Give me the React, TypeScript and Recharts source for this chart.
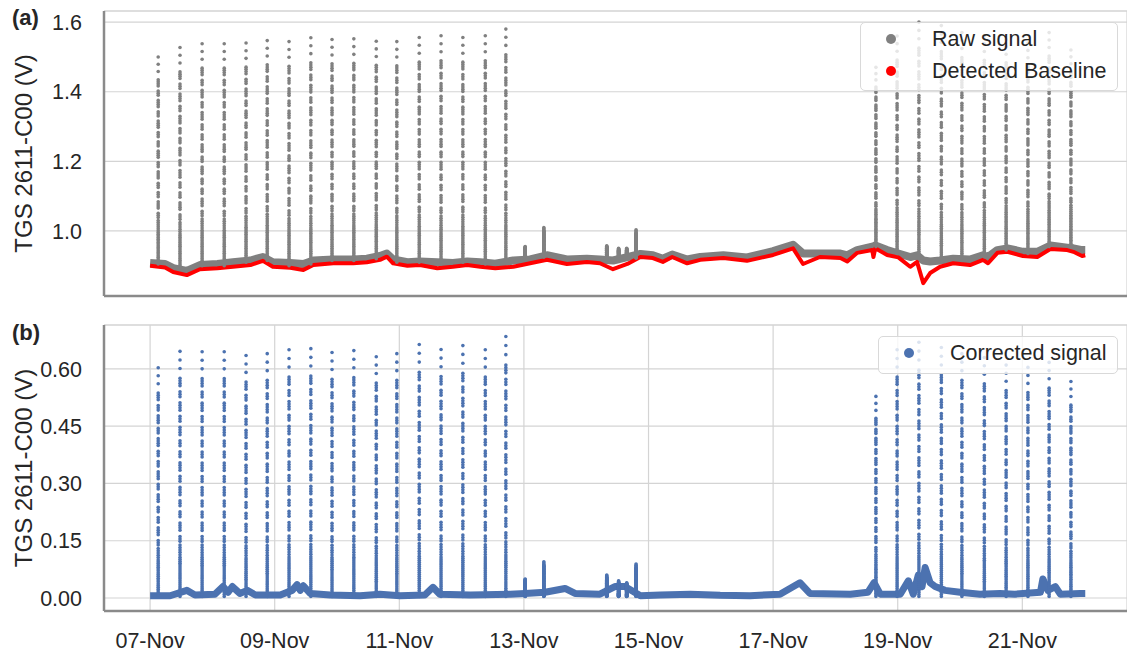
import React from 'react';
import {
  ComposedChart,
  Line,
  Scatter,
  XAxis,
  YAxis,
  CartesianGrid,
  ReferenceLine,
  Legend,
} from 'recharts';

// ---------- data ----------
const tickDays = [0, 2, 4, 6, 8, 10, 12, 14];
const tickLabels = ['07-Nov', '09-Nov', '11-Nov', '13-Nov', '15-Nov', '17-Nov', '19-Nov', '21-Nov'];

// time in days since 07-Nov 00:00
const bandDays = [
  0, 0.24, 0.37, 0.59, 0.8, 1.08, 1.33, 1.61, 1.81, 1.97,
  2.25, 2.46, 2.62, 2.94, 3.26, 3.48, 3.69, 3.8, 3.9, 4.13,
  4.33, 4.61, 4.86, 5.09, 5.3, 5.54, 5.83, 6.1, 6.37, 6.69,
  7.01, 7.22, 7.43, 7.66, 7.87, 8.07, 8.23, 8.38, 8.62, 8.83,
  9.2, 9.58, 10.0, 10.32, 10.48, 10.75, 11.08, 11.19, 11.35, 11.59,
  11.61, 11.64, 11.83, 12.01, 12.2, 12.31, 12.41, 12.52, 12.68, 12.89,
  13.16, 13.37, 13.45, 13.6, 13.76, 14.01, 14.24, 14.45, 14.72, 14.82,
  14.96, 15.01,
];
const baselineValues = [
  0.9, 0.895, 0.882, 0.873, 0.89, 0.893, 0.897, 0.902, 0.914, 0.897,
  0.894, 0.888, 0.902, 0.907, 0.907, 0.91, 0.917, 0.926, 0.907, 0.9,
  0.902, 0.893, 0.897, 0.902, 0.897, 0.893, 0.897, 0.907, 0.917, 0.905,
  0.911, 0.907, 0.89, 0.905, 0.925, 0.922, 0.911, 0.925, 0.907, 0.917,
  0.922, 0.914, 0.931, 0.95, 0.905, 0.925, 0.922, 0.912, 0.937, 0.945,
  0.925, 0.95, 0.931, 0.924, 0.897, 0.911, 0.85, 0.879, 0.897, 0.907,
  0.902, 0.917, 0.907, 0.937, 0.94, 0.928, 0.925, 0.948, 0.945, 0.94,
  0.928, 0.93,
];
const rawBandValues = [
  0.908, 0.905, 0.893, 0.885, 0.902, 0.905, 0.91, 0.915, 0.925, 0.91,
  0.908, 0.905, 0.915, 0.918, 0.918, 0.92, 0.928, 0.935, 0.918, 0.91,
  0.912, 0.91, 0.908, 0.912, 0.91, 0.906, 0.915, 0.918, 0.93, 0.918,
  0.92, 0.918, 0.915, 0.925, 0.934, 0.93, 0.92, 0.932, 0.918, 0.925,
  0.93, 0.924, 0.942, 0.96, 0.935, 0.935, 0.935, 0.93, 0.945, 0.955,
  0.952, 0.958, 0.945, 0.935, 0.925, 0.93, 0.915, 0.912, 0.915, 0.92,
  0.918, 0.93, 0.925, 0.945, 0.95, 0.94, 0.94, 0.958, 0.952, 0.95,
  0.945, 0.945,
];

const corrDays = [
  0, 0.32, 0.59, 0.72, 1.04, 1.17, 1.25, 1.32, 1.44, 1.56,
  1.69, 2.09, 2.28, 2.36, 2.41, 2.46, 2.57, 2.89, 3.37, 3.69,
  4.01, 4.41, 4.54, 4.65, 5.14, 5.78, 6.02, 6.34, 6.66, 6.82,
  7.22, 7.46, 7.62, 7.87, 8.19, 8.67, 9.15, 9.63, 10.11, 10.43,
  10.59, 11.24, 11.52, 11.62, 11.72, 12.04, 12.17, 12.25, 12.33, 12.39,
  12.44, 12.52, 12.6, 12.76, 13.0, 13.32, 13.64, 13.88, 14.29, 14.33,
  14.41, 14.53, 14.61, 14.93, 15.01,
];
const corrValues = [
  0.006, 0.006, 0.02, 0.008, 0.01, 0.03, 0.015, 0.03, 0.012, 0.02,
  0.008, 0.008, 0.02, 0.035, 0.02, 0.032, 0.012, 0.008, 0.006, 0.01,
  0.006, 0.008, 0.028, 0.01, 0.008, 0.01, 0.012, 0.015, 0.025, 0.012,
  0.01, 0.03, 0.03, 0.006, 0.008, 0.01, 0.007, 0.006, 0.01, 0.04,
  0.012, 0.01, 0.015, 0.04, 0.01, 0.01, 0.045, 0.01, 0.06, 0.03,
  0.08, 0.04, 0.03, 0.02, 0.015, 0.01, 0.012, 0.01, 0.015, 0.05,
  0.02, 0.03, 0.01, 0.012, 0.012,
];

// gas exposure spikes
const spikeDays = [
  0.13, 0.48, 0.835, 1.19, 1.54, 1.88, 2.23, 2.58, 2.92, 3.27, 3.63, 3.96, 4.32, 4.67, 5.02, 5.38, 5.71,
  11.65, 11.99, 12.34, 12.7, 13.03, 13.39, 13.74, 14.09, 14.43, 14.78,
];
const rawSpikeBase = [
  0.905, 0.89, 0.9, 0.9, 0.91, 0.915, 0.9, 0.905, 0.915, 0.915, 0.92, 0.91, 0.91, 0.905, 0.91, 0.905, 0.91,
  0.955, 0.935, 0.92, 0.91, 0.915, 0.925, 0.945, 0.935, 0.955, 0.955,
];
const rawSpikePeak = [
  1.5, 1.527, 1.538, 1.538, 1.54, 1.547, 1.544, 1.555, 1.55, 1.552, 1.545, 1.544, 1.556, 1.561, 1.556, 1.561, 1.58,
  1.47, 1.56, 1.6, 1.59, 1.57, 1.56, 1.55, 1.54, 1.57, 1.52,
];
const corrSpikePeak = [
  0.603, 0.646, 0.645, 0.645, 0.635, 0.64, 0.65, 0.653, 0.643, 0.648, 0.632, 0.64, 0.664, 0.651, 0.661, 0.65, 0.685,
  0.528, 0.65, 0.67, 0.656, 0.64, 0.63, 0.61, 0.604, 0.617, 0.567,
];
const corrSpikeBase = 0.004;

// small excursions between 13-Nov and 15-Nov
const minorDays = [6.02, 6.32, 7.33, 7.52, 7.65, 7.8];
const minorRawBase = [0.918, 0.925, 0.918, 0.915, 0.92, 0.922];
const minorRawPeak = [0.955, 1.01, 0.957, 0.95, 0.95, 1.003];
const minorCorrPeak = [0.05, 0.095, 0.06, 0.045, 0.04, 0.089];

// relative levels of the samples recorded during one exposure (0 = base, 1 = peak):
// dense near the base, then clusters separated by small gaps, sparse near the top
const spikeProfile = [
  0, 0.008, 0.016, 0.024, 0.032, 0.04, 0.048, 0.056, 0.064, 0.072, 0.08, 0.088, 0.096,
  0.104, 0.112, 0.12, 0.128, 0.136, 0.144, 0.152, 0.16, 0.17, 0.18, 0.19, 0.2, 0.21,
  0.225, 0.235, 0.245, 0.27, 0.28, 0.29, 0.30, 0.325, 0.335, 0.345, 0.37, 0.38, 0.39,
  0.415, 0.425, 0.435, 0.445, 0.47, 0.48, 0.49, 0.515, 0.525, 0.535, 0.545, 0.57, 0.58,
  0.59, 0.615, 0.625, 0.635, 0.66, 0.67, 0.68, 0.69, 0.715, 0.725, 0.735, 0.76, 0.77,
  0.78, 0.79, 0.815, 0.825, 0.835, 0.86, 0.87, 0.88, 0.89, 0.93, 0.965, 1.0,
];

const legendTopItems = [
  { label: 'Raw signal', color: '#808080' },
  { label: 'Detected Baseline', color: '#ff0000' },
];
const legendBottomItems = [{ label: 'Corrected signal', color: '#4c72b0' }];

// ---------- build series ----------
type Pt = { t: number; v: number };
const toPts = (days: number[], vals: number[]): Pt[] => days.map((t, i) => ({ t, v: vals[i] }));
const spikePts = (days: number[], bases: number[], peaks: number[]): Pt[] => {
  const out: Pt[] = [];
  days.forEach((t, i) => {
    spikeProfile.forEach((f) => out.push({ t, v: bases[i] + f * (peaks[i] - bases[i]) }));
  });
  return out;
};

const baselineData = toPts(bandDays, baselineValues);
const rawBandData = toPts(bandDays, rawBandValues);
const corrBandData = toPts(corrDays, corrValues);
const rawSpikeData = [
  ...spikePts(spikeDays, rawSpikeBase, rawSpikePeak),
  ...spikePts(minorDays, minorRawBase, minorRawPeak),
];
const corrSpikeData = [
  ...spikePts(spikeDays, spikeDays.map(() => corrSpikeBase), corrSpikePeak),
  ...spikePts(minorDays, minorDays.map(() => corrSpikeBase), minorCorrPeak),
];

// ---------- styling ----------
const FONT = '"Liberation Sans", Arial, Helvetica, sans-serif';
const TEXT = '#262626';
const GRID = '#d4d4d4';
const SPINE = '#8a8a8a';
const GRAY = '#808080';
const RED = '#ff0000';
const BLUE = '#4c72b0';
const X_DOMAIN: [number, number] = [-0.74, 15.68];
const TOP_DOMAIN: [number, number] = [0.813, 1.632];
const BOT_DOMAIN: [number, number] = [-0.034, 0.715];

const dotShape = (color: string) => (p: any) =>
  p.cx == null ? <g /> : <circle cx={p.cx} cy={p.cy} r={1.8} fill={color} />;

function YLabel({ cy }: { cy: number }) {
  return (
    <text
      x={23}
      y={cy}
      transform={`rotate(-90 23 ${cy})`}
      textAnchor="middle"
      dominantBaseline="central"
      fontSize={24}
      fontFamily={FONT}
      fill={TEXT}
    >
      TGS 2611-C00 (V)
    </text>
  );
}

function LegendBox({ items, width, height }: { items: { label: string; color: string }[]; width: number; height: number }) {
  return (
    <div
      style={{
        position: 'relative',
        width,
        height,
        boxSizing: 'border-box',
        background: 'rgba(255,255,255,0.8)',
        border: '1px solid #d9d9d9',
        borderRadius: 5,
        fontFamily: FONT,
        fontSize: 21.5,
        color: TEXT,
      }}
    >
      {items.map((it, i) => (
        <div key={it.label} style={{ position: 'absolute', left: 0, top: 32 * i, height: 32, width: '100%' }}>
          <span
            style={{
              position: 'absolute',
              left: 25,
              top: 11,
              width: 10,
              height: 10,
              borderRadius: 5,
              background: it.color,
            }}
          />
          <span style={{ position: 'absolute', left: 71, top: 0, lineHeight: '32px', whiteSpace: 'nowrap' }}>
            {it.label}
          </span>
        </div>
      ))}
    </div>
  );
}

const tickStyle = { fontSize: 21.5, fontFamily: FONT, fill: TEXT };

export default function App() {
  return (
    <div style={{ position: 'absolute', left: 0, top: 0, width: 1127, height: 656, background: '#fff', overflow: 'hidden' }}>
      <div style={{ position: 'absolute', left: 12, top: 7, fontFamily: FONT, fontSize: 22, lineHeight: '22px', fontWeight: 'bold', color: TEXT }}>
        (a)
      </div>
      <div style={{ position: 'absolute', left: 12, top: 322, fontFamily: FONT, fontSize: 22, lineHeight: '22px', fontWeight: 'bold', color: TEXT }}>
        (b)
      </div>

      {/* panel (a) */}
      <div style={{ position: 'absolute', left: 0, top: 0 }}>
        <ComposedChart width={1127} height={300} margin={{ top: 11, right: 0, bottom: 0, left: 0 }}>
          <CartesianGrid stroke={GRID} strokeWidth={1.2} />
          <ReferenceLine y={TOP_DOMAIN[1]} stroke={GRID} strokeWidth={1.2} />
          <XAxis
            type="number"
            dataKey="t"
            domain={X_DOMAIN}
            allowDataOverflow
            ticks={tickDays}
            tick={false}
            tickLine={false}
            height={4}
            axisLine={{ stroke: SPINE, strokeWidth: 2.5 }}
          />
          <YAxis
            type="number"
            dataKey="v"
            domain={TOP_DOMAIN}
            allowDataOverflow
            ticks={[1.0, 1.2, 1.4, 1.6]}
            tickFormatter={(v: number) => v.toFixed(1)}
            width={104}
            tickLine={false}
            tickSize={0}
            tickMargin={22}
            tick={tickStyle}
            axisLine={{ stroke: SPINE, strokeWidth: 2.5 }}
            label={<YLabel cy={153.5} />}
          />
          <Line data={rawBandData} dataKey="v" stroke={GRAY} strokeWidth={8} strokeLinejoin="round" dot={false} isAnimationActive={false} />
          <Scatter data={rawSpikeData} dataKey="v" fill={GRAY} shape={dotShape(GRAY)} isAnimationActive={false} />
          <Line data={baselineData} dataKey="v" stroke={RED} strokeWidth={4} strokeLinejoin="round" dot={false} isAnimationActive={false} />
          <Legend
            layout="vertical"
            align="center"
            verticalAlign="middle"
            wrapperStyle={{ left: 860, top: 22, width: 258, height: 69 }}
            content={() => <LegendBox items={legendTopItems} width={258} height={69} />}
          />
        </ComposedChart>
      </div>

      {/* panel (b) */}
      <div style={{ position: 'absolute', left: 0, top: 300 }}>
        <ComposedChart width={1127} height={356} margin={{ top: 25, right: 0, bottom: 0, left: 0 }}>
          <CartesianGrid stroke={GRID} strokeWidth={1.2} />
          <ReferenceLine y={BOT_DOMAIN[1]} stroke={GRID} strokeWidth={1.2} />
          <XAxis
            type="number"
            dataKey="t"
            domain={X_DOMAIN}
            allowDataOverflow
            ticks={tickDays}
            tickFormatter={(v: number) => tickLabels[tickDays.indexOf(v)] ?? ''}
            tickLine={false}
            tickSize={0}
            tickMargin={22}
            tick={tickStyle}
            height={45}
            axisLine={{ stroke: SPINE, strokeWidth: 2.5 }}
          />
          <YAxis
            type="number"
            dataKey="v"
            domain={BOT_DOMAIN}
            allowDataOverflow
            ticks={[0, 0.15, 0.3, 0.45, 0.6]}
            tickFormatter={(v: number) => v.toFixed(2)}
            width={104}
            tickLine={false}
            tickSize={0}
            tickMargin={22}
            tick={tickStyle}
            axisLine={{ stroke: SPINE, strokeWidth: 2.5 }}
            label={<YLabel cy={168} />}
          />
          <Line data={corrBandData} dataKey="v" stroke={BLUE} strokeWidth={7} strokeLinejoin="round" dot={false} isAnimationActive={false} />
          <Scatter data={corrSpikeData} dataKey="v" fill={BLUE} shape={dotShape(BLUE)} isAnimationActive={false} />
          <Legend
            layout="vertical"
            align="center"
            verticalAlign="middle"
            wrapperStyle={{ left: 878, top: 36, width: 240, height: 38 }}
            content={() => <LegendBox items={legendBottomItems} width={240} height={38} />}
          />
        </ComposedChart>
      </div>
    </div>
  );
}
